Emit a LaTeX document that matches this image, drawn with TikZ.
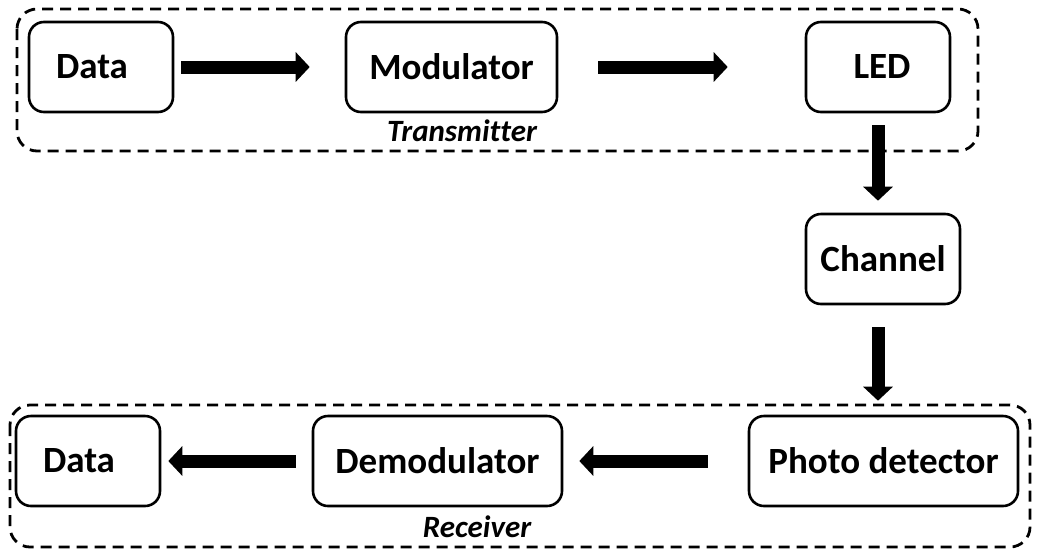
\documentclass[tikz,border=0pt]{standalone}
\usepackage{fontspec}
\setmainfont{Carlito}[Ligatures=CommonOff]
\usetikzlibrary{arrows.meta}

\tikzset{
  block/.style={draw, line width=2.6pt, rounded corners=15pt, minimum height=90pt,
    inner xsep=4pt, font=\fontsize{37}{44}\selectfont\bfseries},
  group/.style={draw, line width=2.8pt, dash pattern=on 11pt off 7pt, rounded corners=20pt},
  flow/.style={line width=13pt, -{Triangle[width=29pt,length=14pt]}},
  caption/.style={font=\fontsize{31}{37}\selectfont\bfseries\itshape}
}

\begin{document}
\begin{tikzpicture}[x=1pt, y=-1pt]
  \useasboundingbox (0,0) rectangle (1038,552);

  % transmitter side
  \draw[group] (17,9) rectangle (978,151);
  \node[block, minimum width=144pt] (dataIn) at (101,67) {Data\hspace*{18pt}};
  \node[block, minimum width=211pt] (mod) at (451.5,67) {Modulator};
  \node[block, minimum width=144pt] (led) at (878,67) {\hspace*{8pt}LED};
  \node[caption] (txName) at (462,131) {Transmitter};

  % channel
  \node[block, minimum width=154pt] (chan) at (883,259) {Channel};

  % receiver side
  \draw[group] (10,405) rectangle (1030,547);
  \node[block, minimum width=269pt] (photo) at (883.5,461) {Photo detector};
  \node[block, minimum width=249pt] (demod) at (437.5,461) {Demodulator};
  \node[block, minimum width=144pt] (dataOut) at (88,461) {Data\hspace*{18pt}};
  \node[caption] (rxName) at (477,527) {Receiver};

  % signal path
  \draw[flow, shorten <=7pt, shorten >=35pt] (dataIn) -- (mod);
  \draw[flow, shorten <=40pt, shorten >=77pt] (mod) -- (led);
  \draw[flow, shorten <=12pt, shorten >=12pt] (led.south) -- (led.south |- chan.north);
  \draw[flow, shorten <=22pt, shorten >=14pt] (chan.south -| led) -- (photo.north -| led);
  \draw[flow, shorten <=40pt, shorten >=16pt] (photo) -- (demod);
  \draw[flow, shorten <=16pt, shorten >=7pt] (demod) -- (dataOut);
\end{tikzpicture}
\end{document}
